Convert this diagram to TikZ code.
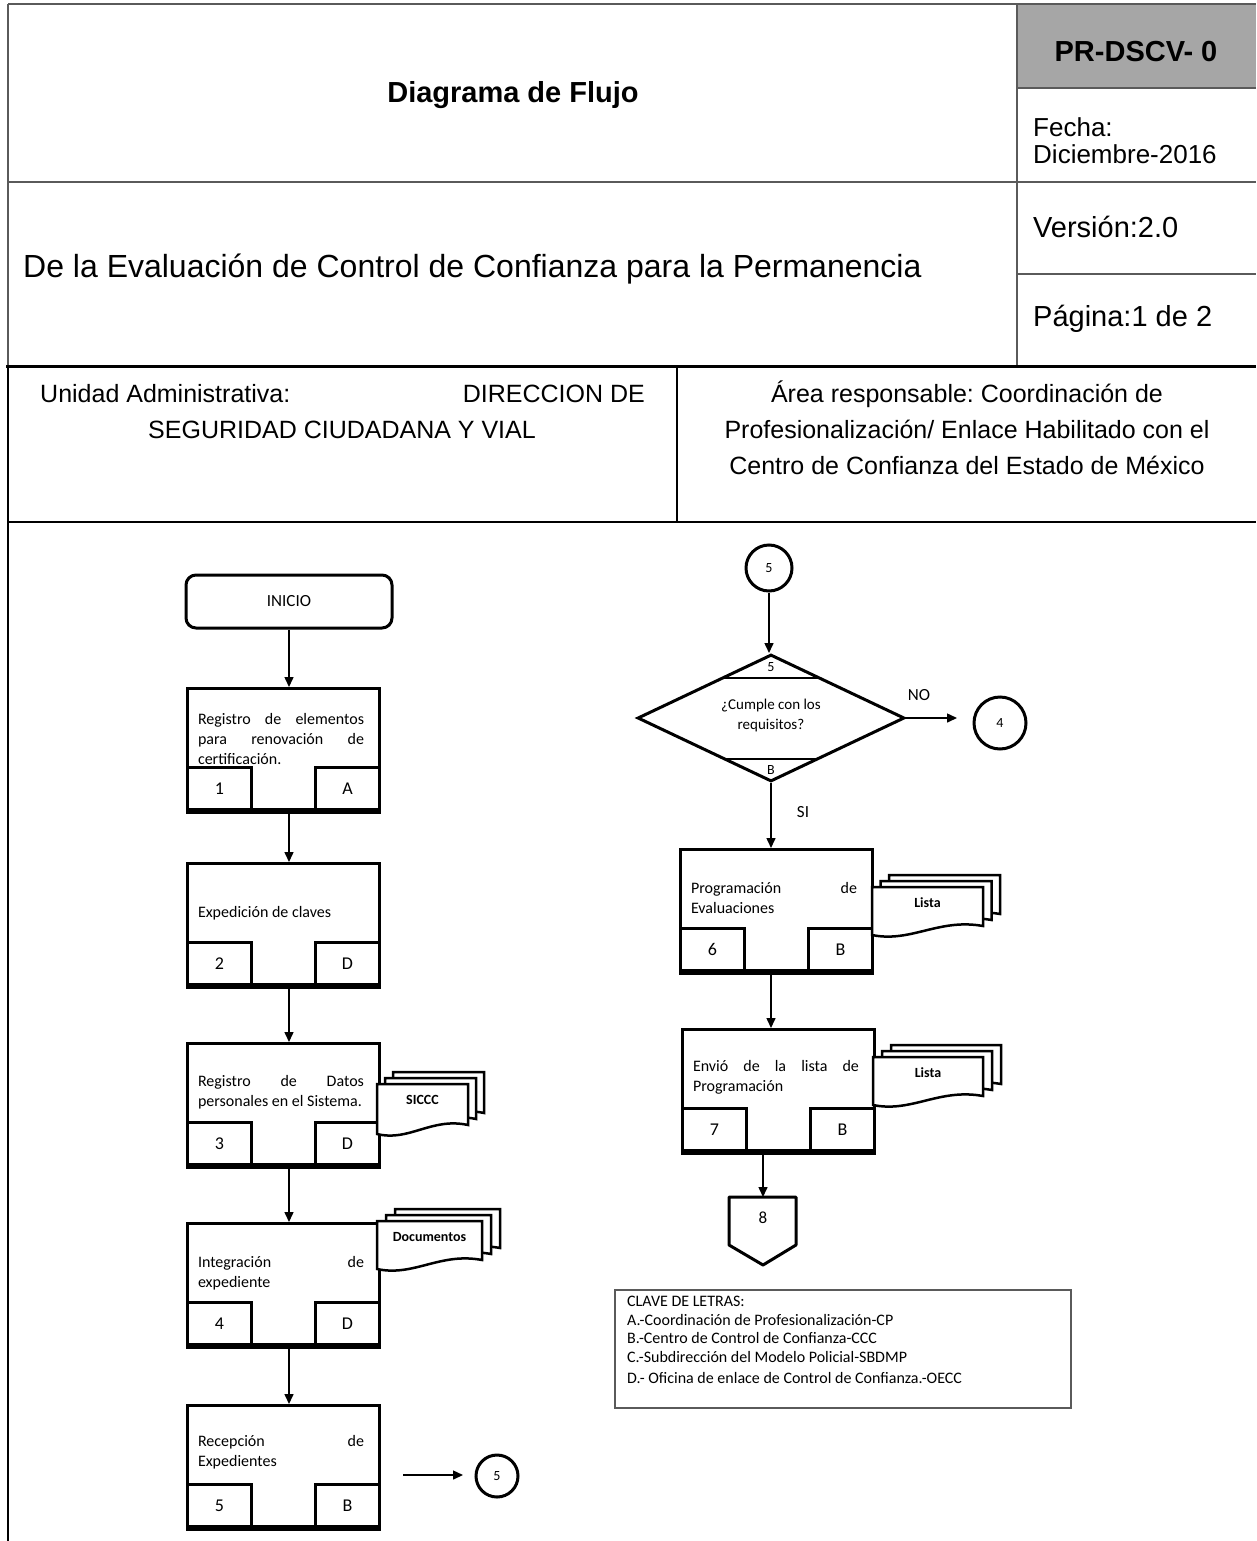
\documentclass[tikz,border=0pt]{standalone}
\usepackage{fontspec}
\setmainfont{Liberation Sans}
\newfontfamily\flowfont{Carlito}
\usetikzlibrary{arrows.meta,shapes.geometric}
\hyphenpenalty=10000
\exhyphenpenalty=10000
\tolerance=9999
\hbadness=10000
\definecolor{hdrgray}{HTML}{A6A6A6}
\definecolor{rulegray}{HTML}{5A5A5A}
\newcommand\procbox[7]{%
  \node[procshape] (#1) at (#2,#3) {};
  \node[tagbox, anchor=south west] (#1n) at (#1.south west) {#5};
  \node[tagbox, anchor=south east] (#1l) at (#1.south east) {#6};
  \draw[line width=5pt] (#1.south west) -- (#1.south east);
  \node[ftxt] (#1t) at ({#2+95},#7) {#4};
}
\newcommand\docpage[4]{%
  \filldraw[docline] (#1,#2) -- ({#1+#3},#2) -- ({#1+#3},{#2+#4-9})
    .. controls ({#1+0.6*#3},{#2+#4-17}) and ({#1+0.35*#3},{#2+#4+8}) .. (#1,{#2+#4}) -- cycle;
}
\newcommand\docstack[8]{%
  \docpage{#2+2*#6}{#3-2*#7}{#4}{#5}
  \docpage{#2+#6}{#3-#7}{#4}{#5}
  \docpage{#2}{#3}{#4}{#5}
  \node[doctext] (#1) at ({#2+#4/2},{#3+16}) {#8};
}
\begin{document}
\frenchspacing
\begin{tikzpicture}[x=1pt,y=-1pt,
  hrule/.style={draw=rulegray, line width=2pt},
  hdr/.style={font=\fontsize{29}{34}\selectfont, inner sep=0},
  hdrbig/.style={font=\fontsize{32}{36}\selectfont, inner sep=0},
  hdrb/.style={font=\bfseries\fontsize{29}{34}\selectfont, inner sep=0},
  hdrs/.style={font=\fontsize{26}{28}\selectfont, inner sep=0},
  unit/.style={font=\fontsize{25}{36}\selectfont, inner sep=0},
  ftxt/.style={font=\flowfont\fontsize{16}{20}\selectfont, inner sep=0, text width=166pt, align=justify},
  procshape/.style={draw, line width=3pt, minimum width=192pt, minimum height=121pt, inner sep=0, anchor=north west},
  tagbox/.style={draw, line width=3pt, minimum width=64pt, minimum height=42pt, inner sep=0, font=\flowfont\fontsize{18}{20}\selectfont},
  arr/.style={line width=1.5pt, -{Triangle[length=10pt,width=9pt]}},
  conn/.style={circle, draw, line width=3pt, inner sep=0, font=\flowfont\fontsize{14}{16}\selectfont},
  docline/.style={draw=black, fill=white, line width=2.5pt},
  doctext/.style={font=\flowfont\bfseries\fontsize{14}{16}\selectfont, inner sep=0},
  lbl/.style={font=\flowfont\fontsize{17}{20}\selectfont, inner sep=0},
  small/.style={font=\flowfont\fontsize{14}{16}\selectfont, inner sep=0}
]
\useasboundingbox (0,0) rectangle (1256,1541);
\fill[white] (0,0) rectangle (1256,1541);

% ---------------- header ----------------
\fill[hdrgray] (1017,4) rectangle (1256,88);
\draw[hrule] (8,4) -- (1256,4);
\draw[hrule] (8,4) -- (8,366);
\draw[hrule] (1017,4) -- (1017,366);
\draw[hrule] (1017,88) -- (1256,88);
\draw[hrule] (8,182) -- (1256,182);
\draw[hrule] (1017,274) -- (1256,274);
\draw[line width=3pt] (6,366) -- (1256,366);
\draw[line width=2pt] (8,366) -- (8,1541);
\draw[line width=2pt] (677,366) -- (677,522);
\draw[line width=2pt] (8,522) -- (1256,522);

\node[hdrb, anchor=base] (title) at (513,103) {Diagrama de Flujo};
\node[hdrb, anchor=base] (code) at (1136,62) {PR-DSCV- 0};
\node[hdrs, anchor=base west] (fecha) at (1033,137) {Fecha:};
\node[hdrs, anchor=base west] (fechav) at (1033,164) {Diciembre-2016};
\node[hdr, anchor=base west] (version) at (1033,237) {Versión:2.0};
\node[hdr, anchor=base west] (pagina) at (1033,326) {Página:1 de 2};
\node[hdrbig, anchor=base west] (proc) at (23,277) {De la Evaluación de Control de Confianza para la Permanencia};

\node[unit, anchor=base west] (unidad) at (40,402) {Unidad Administrativa:};
\node[unit, anchor=base east] (direc) at (645,402) {DIRECCION DE};
\node[unit, anchor=base] (segur) at (342,438) {SEGURIDAD CIUDADANA Y VIAL};
\node[unit, anchor=base] (area1) at (967,402) {Área responsable: Coordinación de};
\node[unit, anchor=base] (area2) at (967,438) {Profesionalización/ Enlace Habilitado con el};
\node[unit, anchor=base] (area3) at (967,474) {Centro de Confianza del Estado de México};

% ---------------- left column ----------------
\node[draw, line width=3pt, rounded corners=10pt, minimum width=206pt, minimum height=53pt,
  font=\flowfont\fontsize{17}{20}\selectfont] (inicio) at (289,601.5) {INICIO};

\procbox{b1}{186}{687}{Registro de elementos para renovación de certificación.}{1}{A}{739}
\procbox{b2}{186}{862}{Expedición de claves}{2}{D}{913}
\procbox{b3}{186}{1042}{Registro de Datos personales en el Sistema.}{3}{D}{1092}
\procbox{b4}{186}{1222}{Integración de expediente}{4}{D}{1273}
\procbox{b5}{186}{1404}{Recepción de Expedientes}{5}{B}{1452}

\docstack{siccc}{377}{1084}{91}{50}{8}{6}{SICCC}
\docstack{docs}{377}{1221}{105}{48}{9}{6}{Documentos}

\draw[arr] (inicio.south) -- (inicio.south |- b1.north);
\draw[arr] (b1.south -| inicio.south) -- (inicio.south |- b2.north);
\draw[arr] (b2.south -| inicio.south) -- (inicio.south |- b3.north);
\draw[arr] (b3.south -| inicio.south) -- (inicio.south |- b4.north);
\draw[arr] (b4.south -| inicio.south) -- (inicio.south |- b5.north);

\node[conn, minimum size=42pt] (c5b) at (497,1476) {5};
\coordinate (a5s) at (403,1475);
\coordinate (a5e) at (463,1475);
\draw[arr] (a5s) -- (a5e);

% ---------------- right column ----------------
\node[conn, minimum size=46pt] (c5) at (769,568) {5};
\node[diamond, draw, line width=3pt, minimum width=267pt, minimum height=127pt, inner sep=0] (dec) at (771,718) {};
\draw[line width=2pt] (722,678) -- (821,678);
\draw[line width=2pt] (724,759) -- (818,759);
\node[small] (dec5) at (771,667) {5};
\node[small] (decb) at (771,770) {B};
\node[font=\flowfont\fontsize{15}{20}\selectfont, align=center, inner sep=0] (dect) at (771,715) {¿Cumple con los\\requisitos?};

\node[conn, minimum size=52pt] (c4) at (1000,723) {4};
\coordinate (noend) at (957,718);
\draw[arr] (dec.east) -- (noend);
\node[lbl] (no) at (919,695) {NO};

\procbox{b6}{679}{848}{Programación de Evaluaciones}{6}{B}{898}
\procbox{b7}{681}{1028}{Envió de la lista de Programación}{7}{B}{1077}

\docstack{lista1}{872}{887}{111}{48}{8.5}{6}{Lista}
\docstack{lista2}{873}{1057}{110}{48}{9}{6}{Lista}

\draw[arr] (c5.south) -- (c5.south |- dec.north);
\draw[arr] (dec.south) -- (dec.south |- b6.north);
\node[lbl] (si) at (803,812) {SI};
\draw[arr] (b6.south -| dec.south) -- (dec.south |- b7.north);

\draw[line width=3pt, line join=round] (729,1197) -- (796,1197) -- (796,1245) -- (763,1265) -- (729,1245) -- cycle;
\coordinate (c8) at (763,1197);
\node[font=\flowfont\fontsize{17}{20}\selectfont, inner sep=0] (c8t) at (763,1218) {8};
\draw[arr] (b7.south -| c8) -- (c8);

% ---------------- legend ----------------
\draw[line width=1.5pt, draw=rulegray] (615,1290) rectangle (1071,1408);
\node[anchor=north west, align=left, inner sep=0, font=\flowfont\fontsize{16}{18.5}\selectfont] (legend) at (627,1296)
 {CLAVE DE LETRAS:\\
  A.-Coordinación de Profesionalización-CP\\
  B.-Centro de Control de Confianza-CCC\\
  C.-Subdirección del Modelo Policial-SBDMP\\[3pt]
  D.- Oficina de enlace de Control de Confianza.-OECC};
\end{tikzpicture}
\end{document}
